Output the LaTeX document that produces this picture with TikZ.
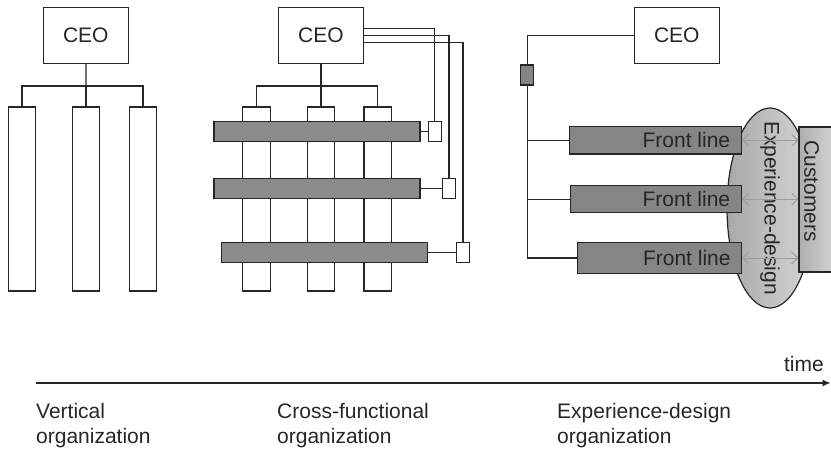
\documentclass[tikz,border=0pt]{standalone}
\usepackage{fontspec}
\setmainfont{Liberation Sans}
\usetikzlibrary{positioning, shapes.geometric, arrows.meta}

\begin{document}
\begin{tikzpicture}[
  x=1pt, y=-1pt,
  every node/.style={font=\fontsize{21}{25}\selectfont, text=black!85},
  line/.style={draw=black!85, line width=1.2pt},
  ceo/.style={rectangle, draw=black!85, line width=1.2pt, fill=white, minimum width=85pt, minimum height=56pt, inner sep=0pt},
  col/.style={rectangle, draw=black!85, line width=1.2pt, fill=white, minimum width=27.5pt, minimum height=184pt, inner sep=0pt},
  team/.style={rectangle, draw=black!85, line width=1.2pt, fill=black!45, minimum height=20pt, inner sep=0pt},
  tab/.style={rectangle, draw=black!85, line width=1.2pt, fill=white, minimum width=13pt, minimum height=20pt, inner sep=0pt},
  front/.style={rectangle, draw=black!85, line width=1.2pt, fill=black!48, inner sep=0pt},
  flow/.style={draw=black!38, line width=1pt, {Straight Barb[length=6pt,width=12pt]}-{Straight Barb[length=6pt,width=12pt]}},
  stage/.style={anchor=north west, align=left, inner sep=0pt}
]
\useasboundingbox (0,0) rectangle (831,450);

% Vertical
\node[ceo] (ceoA) at (85.8,35.3) {CEO};
\node[col] (colA1) at (22,199) {};
\node[col] (colA2) at (86,199) {};
\node[col] (colA3) at (143,199) {};
\coordinate (jA) at (86,86);
\draw[line] (ceoA) -- (jA);
\draw[line] (colA1.north) |- (jA) -| (colA3.north);
\draw[line] (jA) -- (colA2.north);

% Cross-functional
\node[ceo] (ceoB) at (321,35.3) {CEO};
\node[col] (colB1) at (256.5,199) {};
\node[col] (colB2) at (321,199) {};
\node[col] (colB3) at (377.7,199) {};
\coordinate (jB) at (321,86);
\draw[line] (ceoB) -- (jB);
\draw[line] (colB1.north) |- (jB) -| (colB3.north);
\draw[line] (jB) -- (colB2.north);
\node[team, minimum width=206pt] (barB1) at (317,131.7) {};
\node[team, minimum width=206pt] (barB2) at (317,188.3) {};
\node[team, minimum width=205.6pt] (barB3) at (324.5,252.3) {};
\node[tab] (tabB1) at (434.7,131.7) {};
\node[tab] (tabB2) at (449,188.3) {};
\node[tab] (tabB3) at (463,252.3) {};
\draw[line] (barB1) -- (tabB1);
\draw[line] (barB2) -- (tabB2);
\draw[line] (barB3) -- (tabB3);
\draw[line] ([yshift=7pt]ceoB.east) -| (tabB1.north);
\draw[line] (ceoB.east) -| (tabB2.north);
\draw[line] ([yshift=-7.4pt]ceoB.east) -| (tabB3.north);

% Experience-design
\node[ceo] (ceoC) at (676.8,35.3) {CEO};
\node[front, minimum width=13pt, minimum height=20pt] (sqC) at (527.2,75) {};
\draw[line] (ceoC.west) -| (sqC.north);
\node[ellipse, draw=black!85, line width=1.2pt, left color=black!34, right color=black!16,
  minimum width=86pt, minimum height=200pt, inner sep=0pt] (expC) at (770,208) {};
\node[rotate=-90, inner sep=0pt] (expT) at (770,208) {Experience-design};
\node[rectangle, draw=black!85, line width=1.2pt, left color=black!32, right color=black!14,
  minimum width=42pt, minimum height=145pt, inner sep=0pt] (custC) at (820,199.5) {};
\node[rotate=-90, inner sep=0pt] (custT) at (811.7,191) {Customers};
\node[front, minimum width=172pt, minimum height=27.3pt] (barC1) at (655.3,140.3) {};
\node[front, minimum width=171pt, minimum height=27pt] (barC2) at (655.8,199.2) {};
\node[front, minimum width=164.4pt, minimum height=30.6pt] (barC3) at (659.5,258) {};
\node[anchor=east, inner sep=0pt] (ftC1) at ([xshift=-11.5pt]barC1.east) {Front line};
\node[anchor=east, inner sep=0pt] (ftC2) at ([xshift=-11.5pt]barC2.east) {Front line};
\node[anchor=east, inner sep=0pt] (ftC3) at ([xshift=-11.5pt]barC3.east) {Front line};
\draw[line] (sqC.south) |- (barC3.west);
\draw[line] (sqC.south |- barC1.west) -- (barC1.west);
\draw[line] (sqC.south |- barC2.west) -- (barC2.west);
\draw[flow] (barC1.east) -- (barC1.east -| custC.west);
\draw[flow] (barC2.east) -- (barC2.east -| custC.west);
\draw[flow] (barC3.east) -- (barC3.east -| custC.west);

% Time axis
\coordinate (tS) at (36,383);
\coordinate (tE) at (830.5,383);
\draw[line, -{Latex[length=8pt, width=7pt]}] (tS) -- (tE);
\node[anchor=base east, inner sep=0pt] (timeT) at (824,371.7) {time};
\node[stage] (stA) at (36,403.5) {Vertical\\organization};
\node[stage] (stB) at (277,403.5) {Cross-functional\\organization};
\node[stage] (stC) at (557,403.5) {Experience-design\\organization};

\end{tikzpicture}
\end{document}
